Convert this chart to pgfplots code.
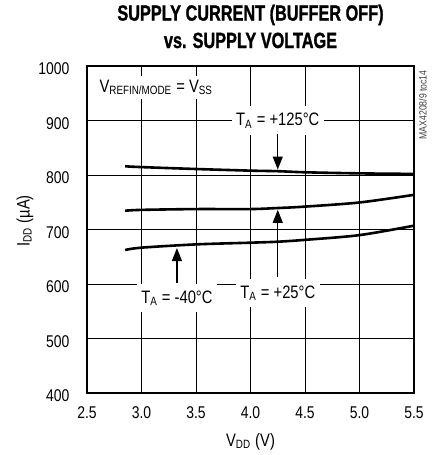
\documentclass[border=0pt]{standalone}
\usepackage{pgfplots}
\pgfplotsset{compat=1.18}
\usepackage{fontspec}
\setmainfont{Liberation Sans}[FakeStretch=0.82]
\newfontfamily\titlefont{Liberation Sans}[FakeStretch=0.74, FakeBold=1.2]
\usetikzlibrary{arrows.meta}
\begin{document}
\begin{tikzpicture}
\useasboundingbox (-43.5pt,-31pt) rectangle (174pt,196.5pt);
\begin{axis}[
  at={(0,0)}, anchor=south west,
  width=163.5pt, height=163.5pt, scale only axis,
  xmin=2.5, xmax=5.5, ymin=400, ymax=1000,
  xtick={2.5,3.0,3.5,4.0,4.5,5.0,5.5},
  ytick={400,500,600,700,800,900,1000},
  grid=major, major grid style={black, line width=0.5pt},
  major tick length=0pt,
  axis line style={line width=1.25pt},
  /pgf/number format/assume math mode=true,
  tick label style={font=\fontsize{8.5}{10}\selectfont},
  xticklabel style={yshift=-3.2pt, /pgf/number format/fixed, /pgf/number format/fixed zerofill, /pgf/number format/precision=1},
  yticklabel style={xshift=-5.3pt, yshift=-1.5pt, /pgf/number format/fixed, /pgf/number format/1000 sep={}},
  clip=false,
]
\addplot[black, line width=1.3pt, smooth] coordinates {
 (2.85,816) (3.0,814.5) (3.5,811) (4.0,808) (4.25,807) (4.5,805) (5.0,803) (5.5,802)};
\addplot[black, line width=1.3pt, smooth] coordinates {
 (2.85,734.5) (3.0,736) (3.5,737.5) (4.0,737.5) (4.25,739.4) (4.5,742) (5.0,749.6) (5.5,763.6)};
\addplot[black, line width=1.3pt, smooth] coordinates {
 (2.85,662.4) (3.0,666.7) (3.5,672.7) (4.0,675.8) (4.25,677.6) (4.5,681) (5.0,689.7) (5.5,707)};

\node[fill=white, inner sep=2pt, anchor=base west, font=\fontsize{9}{10}\selectfont]
  at (axis cs:2.575,952) {V\textsubscript{REFIN/MODE} = V\textsubscript{SS}};

\node[fill=white, inner xsep=2.25pt, inner ysep=3.5pt, anchor=base, font=\fontsize{9}{10}\selectfont]
  at (axis cs:4.25,890) {T\textsubscript{A} = +125°C};
\node[fill=white, inner xsep=2.25pt, inner ysep=3.5pt, anchor=base, font=\fontsize{9}{10}\selectfont]
  at (axis cs:3.325,565) {T\textsubscript{A} = -40°C};
\node[fill=white, inner xsep=2.25pt, inner ysep=3.5pt, anchor=base, font=\fontsize{9}{10}\selectfont]
  at (axis cs:4.25,574) {T\textsubscript{A} = +25°C};

\draw[black, line width=0.6pt, -{Triangle[length=6.5pt,width=5pt]}] (axis cs:4.25,876) -- (axis cs:4.25,810);
\draw[black, line width=0.6pt, -{Triangle[length=6.5pt,width=5pt]}] (axis cs:3.325,601) -- (axis cs:3.325,666);
\draw[black, line width=0.6pt, -{Triangle[length=6.5pt,width=5pt]}] (axis cs:4.25,613) -- (axis cs:4.25,736);

\node[rotate=90, anchor=east, inner sep=0pt, font=\fontsize{5.3}{6}\selectfont, text=black!75]
  at (axis description cs:1.027,0.988) {MAX4208/9 toc14};

\node[anchor=base, font=\fontsize{11}{12}\titlefont\bfseries]
  at (axis description cs:0.5,1) [yshift=22.7pt] {SUPPLY CURRENT (BUFFER OFF)};
\node[anchor=base, font=\fontsize{11}{12}\titlefont\bfseries]
  at (axis description cs:0.5,1) [yshift=9pt] {vs. SUPPLY VOLTAGE};

\node[anchor=base, font=\fontsize{9}{10}\selectfont]
  at (axis description cs:0.5,0) [yshift=-26.85pt] {V\textsubscript{DD} (V)};
\node[rotate=90, anchor=center, font=\fontsize{9}{10}\selectfont]
  at (axis description cs:-0.19,0.526) {I\textsubscript{DD} (µA)};
\end{axis}
\end{tikzpicture}
\end{document}
